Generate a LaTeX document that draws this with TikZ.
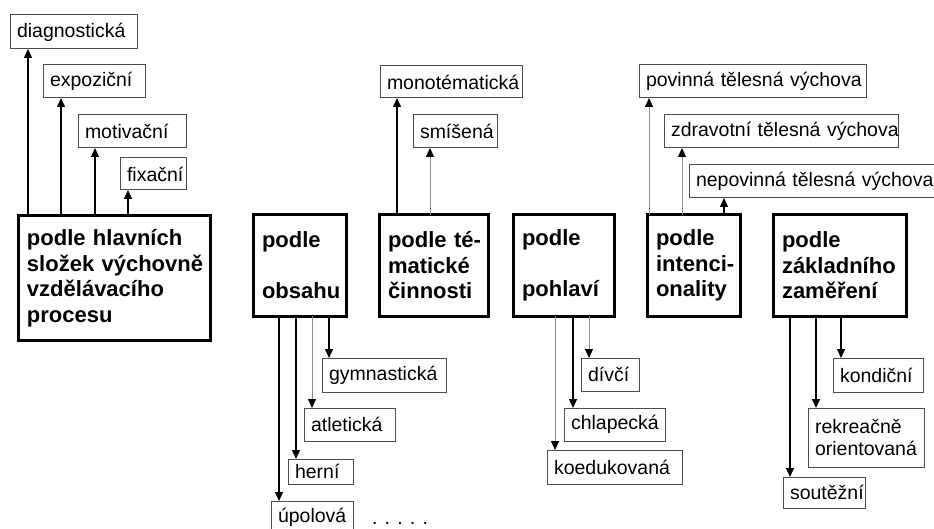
\documentclass[tikz,border=0pt]{standalone}
\usepackage{fontspec}
\setmainfont{Liberation Sans}
\usetikzlibrary{arrows.meta,calc}

\newcommand{\nedel}{\hyphenpenalty=10000 \exhyphenpenalty=10000 }

\tikzset{
  hlavni/.style={draw, line width=3pt, anchor=north west, outer sep=0pt, inner xsep=9pt, inner ysep=0pt, align=left, font=\fontsize{22}{25.5}\selectfont\bfseries, execute at begin node=\nedel},
  druh/.style={draw=black!70, line width=1pt, anchor=north west, outer sep=0pt, inner xsep=7pt, inner ysep=0pt, align=left, font=\fontsize{19.5}{22}\selectfont, execute at begin node=\nedel},
  sipka/.style={line width=1.4pt, -{Triangle[width=8pt,length=9pt]}},
  sipkaslaba/.style={draw=black!45, line width=0.9pt, -{Triangle[width=8pt,length=9pt,black]}},
}

\begin{document}
\begin{tikzpicture}[x=1pt,y=-1pt]
  \useasboundingbox (0,0) rectangle (934,529);
  % hlavni kriteria
  \node[hlavni, text width=174pt, minimum height=124pt] (slozky) at (18,216) {podle~hlavních\\složek~výchovně\\vzdělávacího\\procesu};
  \node[hlavni, text width=75pt, minimum height=101pt] (obsah) at (253,215) {podle\\[25.5pt]obsahu};
  \node[hlavni, text width=91pt, minimum height=101pt] (tema) at (379,215) {podle~té-\\matické\\činnosti};
  \node[hlavni, text width=83pt, minimum height=101pt] (pohlavi) at (513,215) {podle\\[25.5pt]pohlaví};
  \node[hlavni, text width=75pt, minimum height=101pt] (intence) at (647,215) {podle\\intenci-\\onality};
  \node[hlavni, text width=115pt, minimum height=101pt] (zamereni) at (773,215) {podle\\základního\\zaměření};
  % druhy nahore
  \node[druh, text width=113pt, minimum height=34pt] (diagnosticka) at (10,15) {diagnostická};
  \node[druh, text width=88pt, minimum height=33pt] (expozicni) at (43,65) {expoziční};
  \node[druh, text width=94pt, minimum height=33pt] (motivacni) at (78,115) {motivační};
  \node[druh, text width=52pt, minimum height=32pt] (fixacni) at (120,158) {fixační};
  \node[druh, text width=128pt, minimum height=32pt] (monotematicka) at (380,66) {monotématická};
  \node[druh, text width=70pt, minimum height=33pt] (smisena) at (413,115) {smíšená};
  \node[druh, text width=213pt, minimum height=33pt] (povinna) at (639,65) {povinná~tělesná~výchova};
  \node[druh, text width=220pt, minimum height=33pt] (zdravotni) at (664,115) {zdravotní~tělesná~výchova};
  \node[druh, text width=231pt, minimum height=33pt] (nepovinna) at (689,165) {nepovinná~tělesná~výchova};
  % druhy dole
  \node[druh, text width=110pt, minimum height=34pt] (gymnasticka) at (322,358) {gymnastická};
  \node[druh, text width=77pt, minimum height=33pt] (atleticka) at (304,408) {atletická};
  \node[druh, text width=51pt, minimum height=25pt] (herni) at (288,459) {herní};
  \node[druh, text width=68pt, minimum height=32pt] (upolova) at (271,501) {úpolová};
  \node[font=\fontsize{19.5}{22}\selectfont, anchor=base] (dalsi) at (400,524) {. . . . .};
  \node[druh, text width=44pt, minimum height=33pt] (divci) at (581,358) {dívčí};
  \node[druh, text width=87pt, minimum height=33pt] (chlapecka) at (564,408) {chlapecká};
  \node[druh, text width=121pt, minimum height=34pt] (koedukovana) at (547,450) {koedukovaná};
  \node[druh, text width=76pt, minimum height=34pt] (kondicni) at (833,358) {kondiční};
  \node[druh, text width=102pt, minimum height=59pt] (rekreacne) at (808,408) {rekreačně\\orientovaná};
  \node[druh, text width=68pt, minimum height=31pt] (soutezni) at (783,477) {soutěžní};
  % sipky nahoru
  \foreach \rodic/\kam/\dx/\styl in {slozky/diagnosticka/18/sipka, slozky/expozicni/18/sipka,
      slozky/motivacni/17/sipka, slozky/fixacni/8/sipka,
      tema/monotematicka/17/sipka, tema/smisena/17/sipkaslaba,
      intence/povinna/10/sipkaslaba, intence/zdravotni/18/sipkaslaba, intence/nepovinna/35/sipka}
  {
    \path ($(\kam.south west)+(\dx,0)$) coordinate (cil);
    \draw[\styl] (\rodic.north -| cil) -- (cil);
  }
  % sipky dolu
  \foreach \rodic/\kam/\dx/\styl in {obsah/gymnasticka/7/sipka, obsah/atleticka/8/sipkaslaba,
      obsah/herni/8/sipka, obsah/upolova/8/sipka,
      pohlavi/divci/8/sipkaslaba, pohlavi/chlapecka/9/sipka, pohlavi/koedukovana/8/sipkaslaba,
      zamereni/kondicni/8/sipka, zamereni/rekreacne/8/sipka, zamereni/soutezni/7/sipka}
  {
    \path ($(\kam.north west)+(\dx,0)$) coordinate (cil);
    \draw[\styl] (\rodic.south -| cil) -- (cil);
  }
\end{tikzpicture}
\end{document}
